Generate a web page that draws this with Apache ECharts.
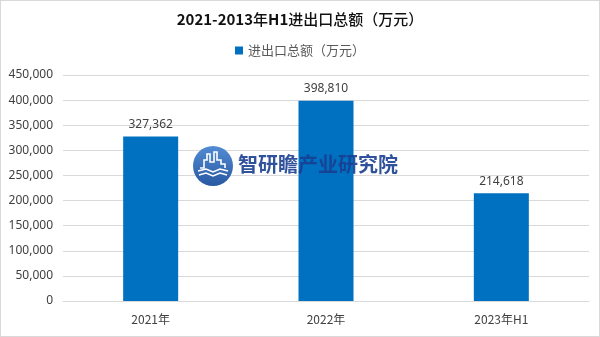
<!DOCTYPE html>
<html>
<head>
<meta charset="utf-8">
<script src="https://cdn.jsdelivr.net/npm/echarts@6/dist/echarts.min.js"></script>
<style>
html,body{margin:0;padding:0;background:#fff;}
#chart{width:598px;height:335px;border:1px solid #d9d9d9;}
</style>
</head>
<body>
<div id="chart"></div>
<script>
const categories = ['2021年', '2022年', '2023年H1'];
const totals = [327362, 398810, 214618];
const yTicks = { min: 0, max: 450000, interval: 50000 };
const seriesName = '进出口总额（万元）';
const brandName = '智研瞻产业研究院';

const chart = echarts.init(document.getElementById('chart'));
const cjk = '"Noto Sans CJK SC", "Noto Sans", sans-serif';

chart.setOption({
  animation: false,
  backgroundColor: '#fff',
  title: {
    // latin parts heavy, CJK parts medium weight
    text: '{b|2021-2013}{n|年}{b|H1}{n|进出口总额（万元）}',
    left: 'center',
    top: 6,
    textStyle: {
      rich: {
        b: { fontFamily: cjk, fontSize: 15, fontWeight: 'bold', color: '#111' },
        n: { fontFamily: cjk, fontSize: 15, fontWeight: 500, color: '#111' }
      }
    }
  },
  legend: {
    top: 38,
    left: 'center',
    icon: 'rect',
    itemWidth: 8,
    itemHeight: 8,
    itemGap: 6,
    textStyle: { fontFamily: cjk, fontSize: 13, color: '#595959' },
    data: [seriesName]
  },
  grid: { left: 62, right: 10, top: 74, bottom: 35, containLabel: false },
  xAxis: {
    type: 'category',
    data: categories,
    axisLine: { lineStyle: { color: '#d9d9d9' } },
    axisTick: { show: false },
    axisLabel: { fontFamily: cjk, fontSize: 12, color: '#404040', margin: 12 }
  },
  yAxis: {
    type: 'value',
    min: yTicks.min,
    max: yTicks.max,
    interval: yTicks.interval,
    axisLine: { show: false },
    axisTick: { show: false },
    splitLine: { lineStyle: { color: '#d9d9d9' } },
    axisLabel: {
      fontFamily: '"Noto Sans", sans-serif',
      fontSize: 12,
      color: '#404040',
      margin: 10,
      formatter: v => v.toLocaleString('en-US')
    }
  },
  series: [{
    name: seriesName,
    type: 'bar',
    data: totals,
    barWidth: 55,
    z: 2,
    itemStyle: { color: '#0070C0' },
    label: {
      show: true,
      position: 'top',
      distance: 6,
      fontFamily: '"Noto Sans", sans-serif',
      fontSize: 12,
      color: '#404040',
      formatter: p => p.value.toLocaleString('en-US')
    }
  }],
  // brand watermark drawn over the plot
  graphic: {
    elements: [{
      type: 'group',
      left: 192,
      top: 145,
      z: 100,
      zlevel: 1,
      children: [
        {
          type: 'circle',
          z: 100,
          shape: { cx: 21, cy: 20, r: 20 },
          style: {
            fill: new echarts.graphic.LinearGradient(0, 0, 0, 1, [
              { offset: 0, color: '#4a86d0' },
              { offset: 1, color: '#1d4f9e' }
            ]),
            opacity: 0.95
          }
        },
        {
          type: 'polyline',
          z: 101,
          shape: { points: [[8, 22], [12, 22], [12, 14], [15, 14], [15, 8], [18, 8], [18, 16], [22, 16], [22, 6], [25, 6], [25, 14], [29, 14], [29, 18], [33, 18], [33, 22]] },
          style: { stroke: '#ffffff', lineWidth: 1.6, fill: null }
        },
        {
          type: 'polyline',
          z: 101,
          shape: { points: [[6, 25], [14, 23], [21, 26], [28, 23], [36, 25]] },
          style: { stroke: '#ffffff', lineWidth: 1.6, fill: null }
        },
        {
          type: 'polyline',
          z: 101,
          shape: { points: [[7, 29], [14, 27], [21, 30], [28, 27], [35, 29]] },
          style: { stroke: '#ffffff', lineWidth: 1.6, fill: null }
        },
        {
          type: 'text',
          z: 101,
          x: 46,
          y: 8,
          style: {
            text: brandName,
            fontFamily: cjk,
            fontSize: 20,
            fontWeight: 'bold',
            fill: 'rgba(25,62,145,0.9)'
          }
        }
      ]
    }]
  }
});
</script>
</body>
</html>
